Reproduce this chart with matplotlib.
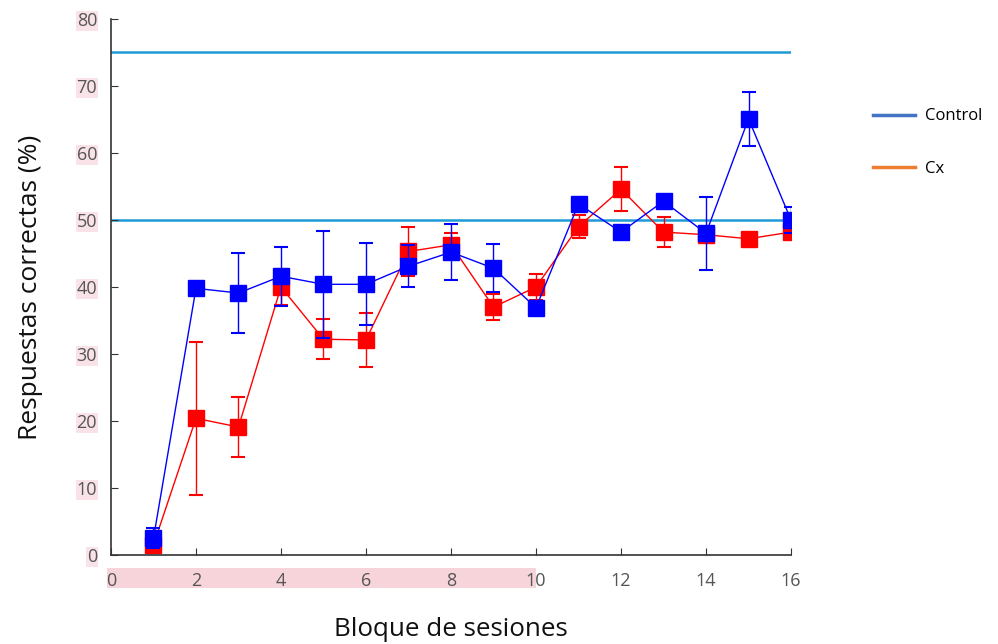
import matplotlib
matplotlib.use("Agg")
import matplotlib.pyplot as plt
from matplotlib.lines import Line2D
from matplotlib.patches import Rectangle

# Session blocks
blocks = list(range(1, 17))

# Control group: mean % correct and error
control_mean = [2.5, 39.8, 39.1, 41.6, 40.4, 40.4, 43.1, 45.2, 42.8, 36.9,
                52.4, 48.2, 52.8, 48.0, 65.1, 50.0]
control_err = [1.5, 0.6, 6.0, 4.4, 8.0, 6.1, 3.1, 4.2, 3.6, 1.0,
               0.8, 0.5, 0.8, 5.5, 4.0, 2.0]

# Cx group: mean % correct and error
cx_mean = [1.5, 20.4, 19.1, 40.0, 32.2, 32.1, 45.3, 46.3, 37.0, 40.0,
           49.0, 54.6, 48.2, 47.8, 47.2, 48.2]
cx_err = [0.5, 11.4, 4.5, 2.7, 3.0, 4.0, 3.6, 1.7, 1.9, 1.9,
          1.7, 3.3, 2.3, 0.5, 0.8, 0.8]

# Reference levels
ref_levels = [75, 50]

x_ticks = list(range(0, 17, 2))
y_ticks = list(range(0, 81, 10))

plt.rcParams['font.family'] = ['Open Sans', 'DejaVu Sans']

fig = plt.figure(figsize=(9.98, 6.44), dpi=100)
ax = fig.add_axes([0.1112, 0.1382, 0.6814, 0.8323])

for lv in ref_levels:
    ax.plot([0, 16], [lv, lv], color='#1e9ad6', lw=1.8, zorder=1)

ax.errorbar(blocks, control_mean, yerr=control_err, color='#0000ff', lw=1.0,
            marker='s', ms=12, mfc='#0000ff', mec='#0000ff', capsize=5,
            elinewidth=1.0, capthick=1.5, zorder=3)
ax.errorbar(blocks, cx_mean, yerr=cx_err, color='#ff0000', lw=1.0,
            marker='s', ms=12, mfc='#ff0000', mec='#ff0000', capsize=5,
            elinewidth=1.0, capthick=1.5, zorder=2)

ax.set_xlim(0, 16)
ax.set_ylim(0, 80)
ax.set_xticks(x_ticks)
ax.set_yticks(y_ticks)
ax.spines['top'].set_visible(False)
ax.spines['right'].set_visible(False)
for s in ('left', 'bottom'):
    ax.spines[s].set_color('#333333')
    ax.spines[s].set_linewidth(1.2)
ax.tick_params(direction='in', length=5, color='#333333', labelsize=13,
               labelcolor='#555555')
ax.tick_params(axis='x', pad=12)
ax.tick_params(axis='y', pad=10)
for lab in ax.get_yticklabels():
    lab.set_bbox(dict(boxstyle='square,pad=0.05', fc='#fae3e8', ec='none'))

# Pink band behind the lower x labels
ax.add_patch(Rectangle((-0.1, -5.0), 10.1, 3.1, transform=ax.transData,
                       fc='#f7d3da', ec='none', clip_on=False, zorder=0))

ax.set_xlabel('Bloque de sesiones', fontsize=18.7, labelpad=20, color='#111111')
ax.set_ylabel('Respuestas correctas (%)', fontsize=19, labelpad=24, color='#111111')

handles = [Line2D([], [], color='#4472c4', lw=2.5),
           Line2D([], [], color='#ed7d31', lw=2.5)]
fig.legend(handles, ['Control', 'Cx'], loc='upper left',
           bbox_to_anchor=(0.86, 0.855), frameon=False, fontsize=12,
           handlelength=2.5, labelspacing=2.2, handletextpad=0.6)

fig.savefig('out.png', dpi=100, facecolor='white')
